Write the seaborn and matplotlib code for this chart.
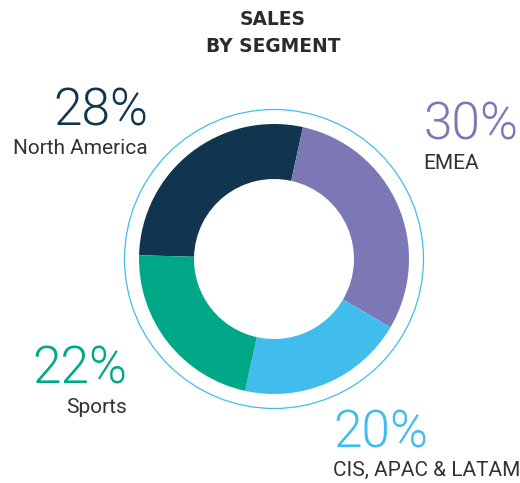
import matplotlib
matplotlib.use("Agg")
import matplotlib.pyplot as plt
import seaborn as sns
from matplotlib.patches import Circle

# data
segments = ["North America", "EMEA", "CIS, APAC & LATAM", "Sports"]
shares = [28, 30, 20, 22]
colors = ["#11354f", "#7b78b5", "#41bded", "#00a887"]

W, H = 520, 483


def main():
    sns.set_theme(style="white")
    plt.rcParams["font.family"] = ["Roboto", "DejaVu Sans"]

    fig = plt.figure(figsize=(W / 100, H / 100), dpi=100)
    ax = fig.add_axes([0, 0, 1, 1])

    cx, cy = 274, H - 259
    palette = sns.color_palette(colors)
    ax.pie(shares, colors=palette, startangle=178.4, counterclock=False,
           center=(cx, cy), radius=135,
           wedgeprops={"width": 55, "linewidth": 0, "edgecolor": "white"})
    # thin outer ring
    ax.add_patch(Circle((cx, cy), 149.5, fill=False, edgecolor="#41bded", linewidth=0.9))

    ax.set_xlim(0, W)
    ax.set_ylim(0, H)
    ax.set_aspect("equal")
    ax.axis("off")

    # title
    for txt, yb in [("SALES", 25), ("BY SEGMENT", 52)]:
        ax.text(273, H - yb, txt, ha="center", va="baseline", fontsize=13.4,
                fontweight="bold", color="#2b2b2b", family="DejaVu Sans")

    # labels: (x, pct baseline, name baseline, alignment)
    spots = [(148, 125, 154, "right"), (423, 140, 169, "left"),
             (333, 448, 476, "left"), (127, 383, 413, "right")]
    for name, val, col, (x, yp, yn, ha) in zip(segments, shares, colors, spots):
        ax.text(x, H - yp, f"{val}%", ha=ha, va="baseline", fontsize=37,
                fontweight=300, color=col)
        ax.text(x, H - yn, name, ha=ha, va="baseline", fontsize=15,
                color="#333333")

    fig.savefig("out.png", dpi=100)


if __name__ == "__main__":
    main()
